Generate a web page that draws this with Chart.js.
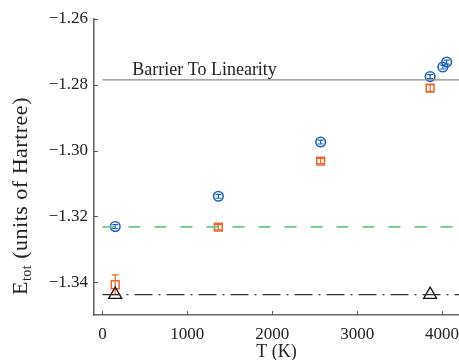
<!DOCTYPE html>
<html>
<head>
<meta charset="utf-8">
<script src="https://cdn.jsdelivr.net/npm/chart.js@4.4.1/dist/chart.umd.min.js"></script>
<style>
  html, body { margin: 0; padding: 0; background: #fff; }
  #wrap { width: 459px; height: 360px; }
</style>
</head>
<body>
<div id="wrap"><canvas id="energyChart"></canvas></div>
<script>
// data
const circleT = [150, 1365, 2570, 3860, 4010, 4055];
const circleE = [-1.3231, -1.3139, -1.2974, -1.2775, -1.2746, -1.2731];
const circleErr = [0.0006, 0.0006, 0.0006, 0.0006, 0.0006, 0.0006];

const squareT = [150, 1365, 2570, 3860];
const squareE = [-1.3408, -1.3233, -1.3032, -1.2810];
const squareErr = [0.003, 0.0008, 0.0008, 0.001];

const triT = [150, 3860];
const triE = [-1.3438, -1.3438];

const barrierE = -1.2785;
const greenE = -1.3232;
const groundE = -1.3438;
const lineT = [0, 4200];

const xTicks = [0, 1000, 2000, 3000, 4000];
const yTicks = [-1.34, -1.32, -1.30, -1.28, -1.26];

const blue = "#1f62b4";
const orange = "#f0652f";
const serif = "'Liberation Serif', 'DejaVu Serif', serif";

const pts = (xs, ys) => xs.map((x, i) => ({ x, y: ys[i] }));
const flat = v => lineT.map(x => ({ x, y: v }));

// error bars, inner ticks, titles, label
const extras = {
  id: "extras",
  beforeDatasetsDraw(c) {
    const { ctx, scales: { x, y } } = c;
    ctx.save();
    const bars = (xs, ys, es, color, cap) => {
      ctx.strokeStyle = color;
      ctx.lineWidth = 1.2;
      xs.forEach((t, i) => {
        const px = x.getPixelForValue(t);
        const top = y.getPixelForValue(ys[i] + es[i]);
        const bot = y.getPixelForValue(ys[i] - es[i]);
        ctx.beginPath();
        ctx.moveTo(px, top); ctx.lineTo(px, bot);
        ctx.moveTo(px - cap, top); ctx.lineTo(px + cap, top);
        ctx.moveTo(px - cap, bot); ctx.lineTo(px + cap, bot);
        ctx.stroke();
      });
    };
    bars(circleT, circleE, circleErr, blue, 3);
    bars(squareT, squareE, squareErr, orange, 3.5);
    ctx.restore();
  },
  afterDraw(c) {
    const { ctx, scales: { x, y }, chartArea: a } = c;
    ctx.save();
    // ticks pointing inward
    ctx.strokeStyle = "#555";
    ctx.lineWidth = 1;
    yTicks.forEach(v => {
      const py = Math.round(y.getPixelForValue(v)) + 0.5;
      ctx.beginPath(); ctx.moveTo(a.left, py); ctx.lineTo(a.left + 4, py); ctx.stroke();
    });
    xTicks.forEach(v => {
      const px = Math.round(x.getPixelForValue(v)) + 0.5;
      ctx.beginPath(); ctx.moveTo(px, a.bottom); ctx.lineTo(px, a.bottom - 4); ctx.stroke();
    });

    ctx.fillStyle = "#222";
    // barrier label
    ctx.font = "18px " + serif;
    ctx.textBaseline = "alphabetic";
    ctx.textAlign = "left";
    ctx.fillText("Barrier To Linearity", x.getPixelForValue(350), y.getPixelForValue(barrierE) - 5);

    // x title
    ctx.textAlign = "center";
    ctx.textBaseline = "middle";
    ctx.fillText("T (K)", (a.left + a.right) / 2, 352);

    // y title with subscript
    ctx.translate(21, 196);
    ctx.rotate(-Math.PI / 2);
    ctx.textBaseline = "middle";
    ctx.textAlign = "left";
    ctx.letterSpacing = "0.5px";
    const big = "22px " + serif, small = "14px " + serif;
    ctx.font = big; const wE = ctx.measureText("E").width;
    const rest = " (units of Hartree)";
    const wR = ctx.measureText(rest).width;
    ctx.font = small; const wS = ctx.measureText("tot").width;
    let sx = -(wE + wS + wR) / 2;
    ctx.font = big; ctx.fillText("E", sx, 0); sx += wE;
    ctx.font = small; ctx.fillText("tot", sx, 6); sx += wS;
    ctx.font = big; ctx.fillText(rest, sx, 0);
    ctx.restore();
  }
};

new Chart(document.getElementById("energyChart"), {
  type: "scatter",
  data: {
    datasets: [
      { data: flat(barrierE), showLine: true, borderColor: "#8a8a8a", borderWidth: 1.3, pointRadius: 0 },
      { data: flat(greenE), showLine: true, borderColor: "#6cc987", borderWidth: 1.8, borderDash: [12, 14], pointRadius: 0 },
      { data: flat(groundE), showLine: true, borderColor: "#333", borderWidth: 1.2, borderDash: [18, 6, 2, 6], pointRadius: 0 },
      { data: pts(triT, triE), pointStyle: "triangle", pointRadius: 7.5, borderColor: "#111", backgroundColor: "rgba(255,255,255,0)", borderWidth: 1.3 },
      { data: pts(squareT, squareE), pointStyle: "rect", pointRadius: 5.5, borderColor: orange, backgroundColor: "rgba(255,255,255,0)", borderWidth: 1.5 },
      { data: pts(circleT, circleE), pointStyle: "circle", pointRadius: 4.8, borderColor: blue, backgroundColor: "rgba(255,255,255,0)", borderWidth: 1.6 }
    ]
  },
  options: {
    responsive: true,
    maintainAspectRatio: false,
    animation: false,
    layout: { autoPadding: false, padding: { top: 19, right: 0, left: 0, bottom: 0 } },
    plugins: { legend: { display: false }, tooltip: { enabled: false } },
    scales: {
      x: {
        type: "linear",
        min: -100,
        max: 4200,
        afterBuildTicks: s => { s.ticks = xTicks.map(value => ({ value })); },
        afterFit: s => { s.height = 45; s.paddingRight = 0; s.paddingLeft = 0; },
        grid: { display: false, drawTicks: false },
        border: { color: "#6a6a6a", width: 1.6 },
        ticks: { color: "#222", padding: 9, font: { family: serif, size: 17 }, callback: v => String(v) }
      },
      y: {
        type: "linear",
        min: -1.35,
        max: -1.26,
        afterBuildTicks: s => { s.ticks = yTicks.map(value => ({ value })); },
        afterFit: s => { s.width = 94; },
        grid: { display: false, drawTicks: false },
        border: { color: "#6a6a6a", width: 1.6 },
        ticks: {
          color: "#222",
          padding: 6,
          font: { family: serif, size: 17 },
          callback: v => "\u2212" + Math.abs(v).toFixed(2)
        }
      }
    }
  },
  plugins: [extras]
});
</script>
</body>
</html>
